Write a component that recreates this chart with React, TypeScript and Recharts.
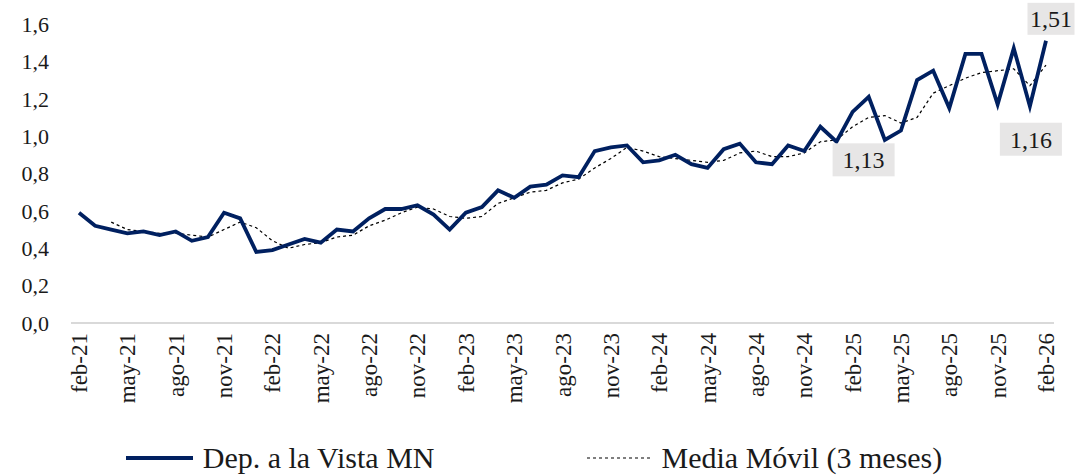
import React from 'react';
import { LineChart, Line, XAxis, YAxis, LabelList } from 'recharts';

// Monthly series, feb-21 .. feb-26
const months = [
  'feb-21', 'mar-21', 'abr-21', 'may-21', 'jun-21', 'jul-21', 'ago-21', 'sep-21', 'oct-21', 'nov-21', 'dic-21',
  'ene-22', 'feb-22', 'mar-22', 'abr-22', 'may-22', 'jun-22', 'jul-22', 'ago-22', 'sep-22', 'oct-22', 'nov-22', 'dic-22',
  'ene-23', 'feb-23', 'mar-23', 'abr-23', 'may-23', 'jun-23', 'jul-23', 'ago-23', 'sep-23', 'oct-23', 'nov-23', 'dic-23',
  'ene-24', 'feb-24', 'mar-24', 'abr-24', 'may-24', 'jun-24', 'jul-24', 'ago-24', 'sep-24', 'oct-24', 'nov-24', 'dic-24',
  'ene-25', 'feb-25', 'mar-25', 'abr-25', 'may-25', 'jun-25', 'jul-25', 'ago-25', 'sep-25', 'oct-25', 'nov-25', 'dic-25',
  'ene-26', 'feb-26',
];

const depVista = [
  0.59, 0.52, 0.50, 0.48, 0.49, 0.47, 0.49, 0.44, 0.46, 0.59, 0.56,
  0.38, 0.39, 0.42, 0.45, 0.43, 0.50, 0.49, 0.56, 0.61, 0.61, 0.63, 0.58,
  0.50, 0.59, 0.62, 0.71, 0.67, 0.73, 0.74, 0.79, 0.78, 0.92, 0.94, 0.95,
  0.86, 0.87, 0.90, 0.85, 0.83, 0.93, 0.96, 0.86, 0.85, 0.95, 0.92, 1.05,
  0.97, 1.13, 1.21, 0.98, 1.03, 1.30, 1.35, 1.15, 1.44, 1.44, 1.17, 1.47,
  1.16, 1.51,
];

const mediaMovil = [
  null, null, 0.54, 0.50, 0.49, 0.48, 0.48, 0.47, 0.46, 0.50, 0.54,
  0.51, 0.44, 0.40, 0.42, 0.43, 0.46, 0.47, 0.52, 0.55, 0.59, 0.62, 0.61,
  0.57, 0.56, 0.57, 0.64, 0.67, 0.70, 0.71, 0.75, 0.77, 0.83, 0.88, 0.94,
  0.92, 0.89, 0.88, 0.87, 0.86, 0.87, 0.91, 0.92, 0.89, 0.89, 0.91, 0.97,
  0.98, 1.05, 1.10, 1.11, 1.07, 1.10, 1.23, 1.27, 1.31, 1.34, 1.35, 1.36,
  1.27, 1.38,
];

const yTicks = [0, 0.2, 0.4, 0.6, 0.8, 1.0, 1.2, 1.4, 1.6];

const data = months.map((m, i) => ({ month: m, dep: depVista[i], ma: mediaMovil[i] }));

// highlighted values: placement of the grey label boxes
const callouts: Record<number, { dx: number; dy: number; w: number; h: number }> = {
  48: { dx: 11, dy: 48, w: 62, h: 33 },
  59: { dx: 1, dy: 33, w: 62, h: 33 },
  60: { dx: 5, dy: -22, w: 47, h: 32 },
};

const FONT = 'Liberation Serif';
const fmt = (v: number) => v.toFixed(2).replace('.', ',');

const MonthTick = (props: any) => {
  const { x, y, payload } = props;
  return (
    <text
      x={x}
      y={y}
      transform={`rotate(-90, ${x}, ${y})`}
      textAnchor="end"
      dy="0.35em"
      fill="#1a1a1a"
      fontFamily={FONT}
      fontSize={23}
    >
      {payload.value}
    </text>
  );
};

const Callout = (props: any) => {
  const { x, y, index, value } = props;
  const c = callouts[index];
  if (!c) return null;
  const cx = x + c.dx;
  const cy = y + c.dy;
  return (
    <g>
      <rect x={cx - c.w / 2} y={cy - c.h / 2} width={c.w} height={c.h} fill="#e7e6e6" />
      <text x={cx} y={cy} dy="0.35em" textAnchor="middle" fill="#1a1a1a" fontFamily={FONT} fontSize={24}>
        {fmt(value)}
      </text>
    </g>
  );
};

export default function App() {
  return (
    <div style={{ position: 'absolute', left: 0, top: 0, width: 1078, height: 475, background: '#fff', fontFamily: FONT }}>
      <LineChart width={1078} height={475} data={data} margin={{ top: 24, right: 24, left: 0, bottom: 52 }}>
        <XAxis
          dataKey="month"
          interval={2}
          height={100}
          padding={{ left: 8, right: 8 }}
          tickLine={false}
          tickSize={0}
          tickMargin={10}
          axisLine={{ stroke: '#d9d9d9', strokeWidth: 2 }}
          tick={<MonthTick />}
        />
        <YAxis
          domain={[0, 1.6]}
          ticks={yTicks}
          width={71}
          axisLine={false}
          tickLine={false}
          tickSize={0}
          tickMargin={22}
          tickFormatter={(v: number) => v.toFixed(1).replace('.', ',')}
          tick={{ fontSize: 22, fill: '#1a1a1a', fontFamily: FONT }}
        />
        <Line
          type="linear"
          dataKey="ma"
          stroke="#000"
          strokeWidth={1.2}
          strokeDasharray="3 3"
          dot={false}
          isAnimationActive={false}
        />
        <Line
          type="linear"
          dataKey="dep"
          stroke="#002060"
          strokeWidth={3.8}
          dot={false}
          isAnimationActive={false}
        >
          <LabelList dataKey="dep" content={<Callout />} />
        </Line>
      </LineChart>
      <div
        style={{
          position: 'absolute',
          top: 439,
          left: 0,
          width: 1068,
          display: 'flex',
          justifyContent: 'center',
          gap: 152,
          fontSize: 30,
          color: '#1a1a1a',
          lineHeight: '38px',
        }}
      >
        <div style={{ display: 'flex', alignItems: 'center' }}>
          <svg width={67} height={10} style={{ marginRight: 10 }}>
            <line x1={0} y1={5} x2={67} y2={5} stroke="#002060" strokeWidth={3.8} />
          </svg>
          <span>Dep. a la Vista MN</span>
        </div>
        <div style={{ display: 'flex', alignItems: 'center' }}>
          <svg width={65} height={10} style={{ marginRight: 10 }}>
            <line x1={0} y1={5} x2={65} y2={5} stroke="#000" strokeWidth={1.2} strokeDasharray="3 3" />
          </svg>
          <span>Media Móvil (3 meses)</span>
        </div>
      </div>
    </div>
  );
}
